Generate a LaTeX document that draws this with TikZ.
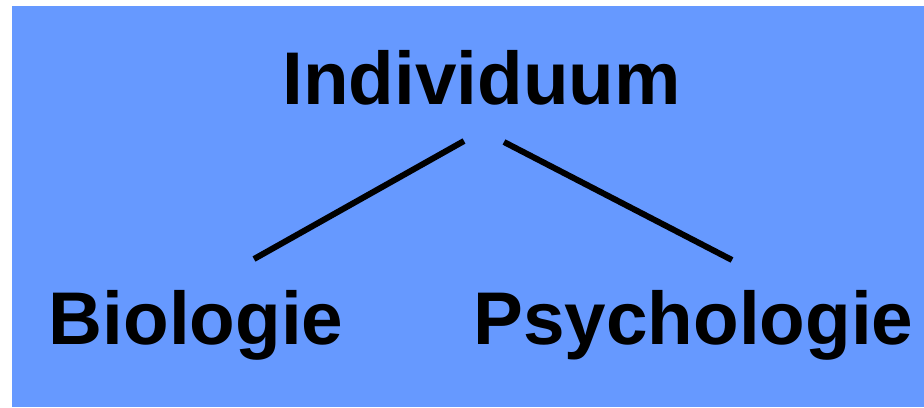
\documentclass[tikz,border=0pt]{standalone}
\usepackage{fontspec}
\setmainfont{Liberation Sans}
\usepackage{xcolor}
\definecolor{panelblue}{RGB}{102,153,255}
\tikzset{
  label text/.style={anchor=base,inner sep=0.75pt,font=\fontsize{56}{60}\selectfont\bfseries},
  tree line/.style={color=black,line width=4.5pt}
}

\begin{document}
\begin{tikzpicture}[x=0.75pt,y=0.75pt,yscale=-1,xscale=1]
\useasboundingbox (0,0) rectangle (924,407);

%Shape: Rectangle [id:background]
\fill [panelblue] (12,6) rectangle (924,407);

% Text Node
\node [label text] (individuum) at (481.5,104) {Individuum};
% Text Node
\node [label text] (biologie) at (196,344) {Biologie};
% Text Node
\node [label text] (psychologie) at (693.5,344) {Psychologie};

%Straight Lines [id:left]
\coordinate (ind-left) at (464,141);
\coordinate (bio-top) at (254,259);
\draw [tree line] (bio-top) -- (ind-left);
%Straight Lines [id:right]
\coordinate (ind-right) at (504,142);
\coordinate (psy-top) at (732,260);
\draw [tree line] (ind-right) -- (psy-top);

\end{tikzpicture}
\end{document}
